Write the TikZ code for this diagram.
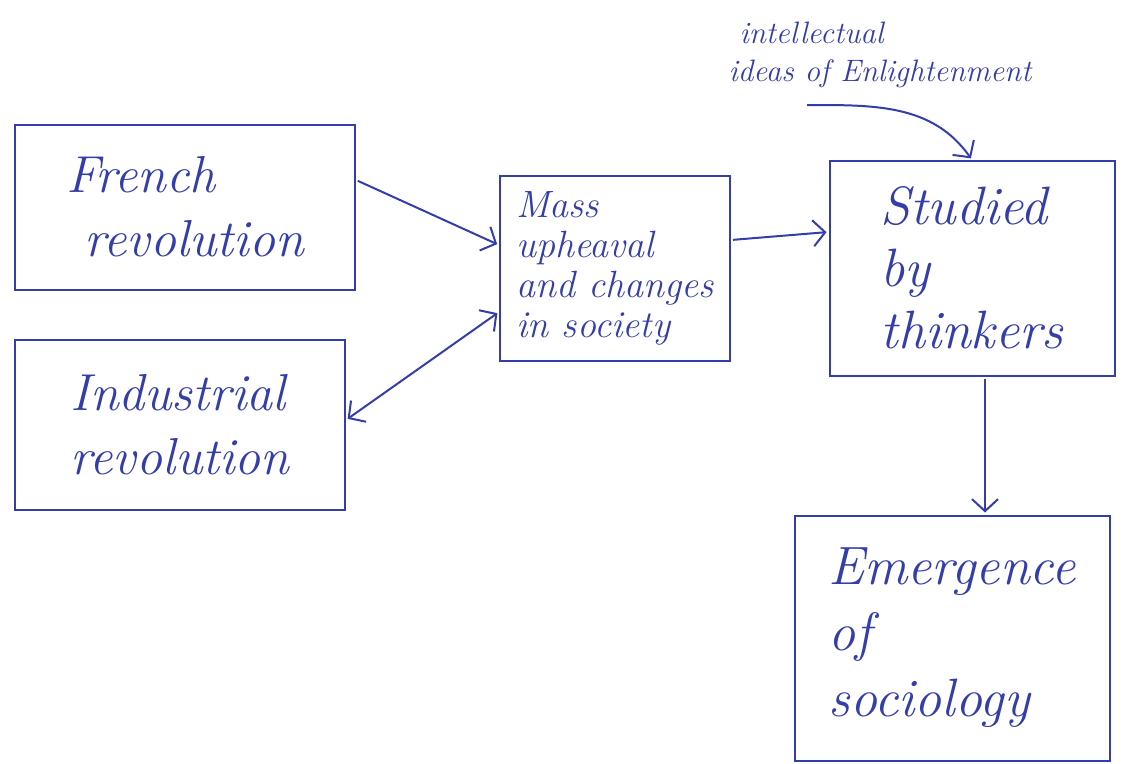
\documentclass[tikz,border=0pt]{standalone}
\usepackage{xcolor}
\usetikzlibrary{calc, positioning, arrows.meta}
\definecolor{ink}{RGB}{52,62,170}

\begin{document}
\begin{tikzpicture}[x=1pt, y=-1pt, ink, line width=2pt,
  bx/.style={draw, rectangle, align=left, inner sep=4pt, font=\itshape\fontsize{52}{64}\selectfont},
  arr/.style={-{Straight Barb[length=12pt, width=26pt]}, shorten >=2pt, shorten <=2pt}]
\useasboundingbox (0,0) rectangle (1129,763);
\node[bx, minimum width=340, minimum height=165] (FR) at (185,207) {French\\ \ revolution};
\node[bx, minimum width=330, minimum height=170] (IR) at (180,425) {Industrial\\ revolution};
\node[bx, minimum width=230, minimum height=185, font=\itshape\fontsize{38}{40}\selectfont] (MU) at (615,268) {Mass\\ upheaval\\ and changes\\ in society};
\node[bx, minimum width=285, minimum height=215, font=\itshape\fontsize{54}{62}\selectfont] (ST) at (972,268) {Studied\\ by\\ thinkers};
\node[bx, minimum width=315, minimum height=245, font=\itshape\fontsize{54}{66}\selectfont] (EM) at (952,638) {Emergence\\ of\\ sociology};
\node[align=left, font=\itshape\fontsize{31}{38}\selectfont] (IE) at (880,55) {\ intellectual\\ ideas of Enlightenment};
\coordinate (IEs) at (805,105);
\draw[arr] (FR.east |- 0,180) -- (MU.west |- 0,245);
\draw[arr, {Straight Barb[length=12pt, width=26pt]}-{Straight Barb[length=12pt, width=26pt]}] (IR.east |- 0,420) -- (MU.west |- 0,312);
\draw[arr] (MU.east |- 0,240) -- (ST.west |- 0,232);
\draw[arr] (IEs) to[out=0, in=125] (ST.north |- 0,160);
\draw[arr] (ST.south -| 985,0) -- (EM.north -| 985,0);
\end{tikzpicture}
\end{document}
